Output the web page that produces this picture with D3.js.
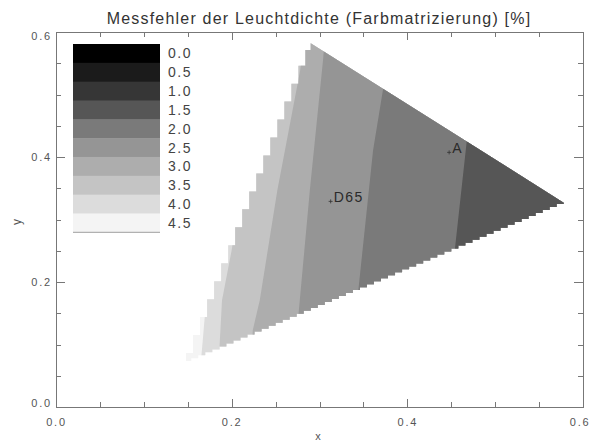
<!DOCTYPE html>
<html lang="de">
<head>
<meta charset="utf-8">
<title>Messfehler der Leuchtdichte</title>
<script src="https://cdn.jsdelivr.net/npm/d3@7"></script>
<style>
	body { margin: 0; background: #fff; }
	svg { display: block; font-family: "Liberation Sans", Arial, sans-serif; }
	.axis path, .axis line { stroke: #777; shape-rendering: crispEdges; }
	.axis text { fill: #555; font-size: 11px; letter-spacing: 1.8px; font-family: "Liberation Sans", Arial, sans-serif; }
</style>
</head>
<body>
<div id="chart"></div>

<script>
// contour levels shown in the legend
var levels = ["0.0", "0.5", "1.0", "1.5", "2.0", "2.5", "3.0", "3.5", "4.0", "4.5"];

// corners of the measured gamut (blue, green, red) in xy
var gamut = [[0.148, 0.072], [0.290, 0.582], [0.578, 0.327]];

// contour lines (bottom to top); to the right of each the error is below its level
var c45 = [[0.163, 0.040], [0.172, 0.187], [0.205, 0.620]];
var c40 = [[0.184, 0.040], [0.189, 0.171], [0.200, 0.251], [0.215, 0.395], [0.240, 0.620]];
var c35 = [[0.222, 0.040], [0.224, 0.123], [0.232, 0.171], [0.252, 0.347], [0.278, 0.539], [0.285, 0.620]];
var c30 = [[0.270, 0.040], [0.276, 0.147], [0.289, 0.347], [0.304, 0.555], [0.308, 0.620]];
var c25 = [[0.335, 0.040], [0.344, 0.184], [0.361, 0.411], [0.373, 0.514], [0.380, 0.620]];
var c20 = [[0.451, 0.040], [0.454, 0.251], [0.468, 0.430], [0.475, 0.620]];

// illuminants marked in the plot
var whiteNames = ["D65", "A"];
var whiteX = [0.3127, 0.4476];
var whiteY = [0.3290, 0.4074];

var xMajor = [0, 0.2, 0.4, 0.6];
var yMajor = [0, 0.2, 0.4, 0.6];
var minor = [0.05, 0.1, 0.15, 0.25, 0.3, 0.35, 0.45, 0.5, 0.55];

var grays = ["#000000", "#1b1b1b", "#363636", "#565656", "#7a7a7a",
	"#959595", "#adadad", "#c4c4c4", "#dcdcdc", "#f4f4f4"];

var width = 591, height = 441;

var svg = d3.select("#chart").append("svg")
	.attr("width", width)
	.attr("height", height);

var x = d3.scaleLinear().domain([0, 0.6]).range([56, 583]),
	y = d3.scaleLinear().domain([0, 0.6]).range([407, 32]);

var fill = d3.scaleOrdinal().domain(levels).range(grays);

var line = d3.line().x(function(d) { return x(d[0]); }).y(function(d) { return y(d[1]); });

// stepped gamut edges, like the gridded contour output
var B = gamut[0], G = gamut[1], R = gamut[2];
function edgeY(a, b, xv) { return a[1] + (b[1] - a[1]) * (xv - a[0]) / (b[0] - a[0]); }

var outline = [];
d3.range(B[0], G[0], 0.008).forEach(function(x0) {
	var x1 = Math.min(x0 + 0.008, G[0]);
	var yc = edgeY(B, G, (x0 + x1) / 2);
	outline.push([x0, yc], [x1, yc]);
});
outline.push(G, R);
d3.range(R[0], B[0], -0.008).forEach(function(x1) {
	var x0 = Math.max(x1 - 0.008, B[0]);
	var yc = edgeY(B, R, (x0 + x1) / 2);
	outline.push([x1, yc], [x0, yc]);
});

svg.append("clipPath").attr("id", "gamut")
	.append("path")
	.attr("d", line(outline) + "Z");

var plot = svg.append("g").attr("clip-path", "url(#gamut)");

plot.append("rect")
	.attr("x", x(0)).attr("y", y(0.6))
	.attr("width", x(0.6) - x(0)).attr("height", y(0) - y(0.6))
	.attr("fill", fill("4.5"));

var bands = [
	{line: c45, level: "4.0"},
	{line: c40, level: "3.5"},
	{line: c35, level: "3.0"},
	{line: c30, level: "2.5"},
	{line: c25, level: "2.0"},
	{line: c20, level: "1.5"}
];

plot.selectAll(".band")
	.data(bands)
	.enter().append("path")
	.attr("class", "band")
	.attr("d", function(d) {
		var pts = d.line.slice();
		pts.push([0.7, pts[pts.length - 1][1]], [0.7, pts[0][1]]);
		return line(pts) + "Z";
	})
	.attr("fill", function(d) { return fill(d.level); });

// illuminant markers
var marks = svg.append("g").selectAll("g")
	.data(whiteNames)
	.enter().append("g")
	.attr("transform", function(d, i) { return "translate(" + x(whiteX[i]) + "," + y(whiteY[i]) + ")"; });

marks.append("path")
	.attr("d", "M-2,0H2M0,-2V2")
	.attr("stroke", "#333")
	.attr("stroke-width", 0.8);

marks.append("text")
	.attr("x", 3)
	.attr("y", 1)
	.attr("font-size", "14px")
	.attr("letter-spacing", "1.5px")
	.attr("fill", "#2a2a2a")
	.text(function(d) { return d; });

// axes, ticks pointing inward on all four sides
function frame(axis, tr, values, size, labels) {
	var g = svg.append("g")
		.attr("class", "axis")
		.attr("transform", tr)
		.call(axis.tickValues(values).tickSizeInner(-size).tickSizeOuter(0).tickPadding(labels ? 9 : 0)
			.tickFormat(labels ? d3.format(".1f") : ""));
	return g;
}

var bottom = frame(d3.axisBottom(x), "translate(0,407)", xMajor, 8, true);
frame(d3.axisBottom(x), "translate(0,407)", minor, 5, false);
frame(d3.axisTop(x), "translate(0,32)", xMajor, 8, false);
frame(d3.axisTop(x), "translate(0,32)", minor, 5, false);
var left = frame(d3.axisLeft(y), "translate(56,0)", yMajor, 9, true);
frame(d3.axisLeft(y), "translate(56,0)", minor, 5, false);
frame(d3.axisRight(y), "translate(583,0)", yMajor, 9, false);
frame(d3.axisRight(y), "translate(583,0)", minor, 5, false);

bottom.selectAll("text").attr("y", 11)
	.attr("text-anchor", function(d) { return d === 0.6 ? "end" : "middle"; })
	.attr("x", function(d) { return d === 0.6 ? 7 : 0; });
left.selectAll("text").attr("x", -4)
	.attr("transform", function(d) { return d === 0.6 ? "translate(0,4)" : d === 0 ? "translate(0,-4)" : null; });

// legend
var rows = d3.scaleBand().domain(levels).range([44, 232.3]);

var legend = svg.append("g");

legend.selectAll("rect")
	.data(levels)
	.enter().append("rect")
	.attr("x", 73)
	.attr("width", 87)
	.attr("y", function(d) { return rows(d); })
	.attr("height", rows.bandwidth() + 0.5)
	.attr("fill", function(d) { return fill(d); });

legend.append("line")
	.attr("x1", 73).attr("x2", 160)
	.attr("y1", 232.3).attr("y2", 232.3)
	.attr("stroke", "#a0a0a0");

legend.selectAll("text")
	.data(levels)
	.enter().append("text")
	.attr("x", 168)
	.attr("y", function(d) { return rows(d) + rows.bandwidth() / 2 + 5; })
	.attr("font-size", "14px")
	.attr("letter-spacing", "1.5px")
	.attr("fill", "#444")
	.text(function(d) { return d; });

// titles
svg.append("text")
	.attr("x", 319)
	.attr("y", 24)
	.attr("text-anchor", "middle")
	.attr("font-size", "16px")
	.attr("letter-spacing", "1.2px")
	.attr("fill", "#333")
	.text("Messfehler der Leuchtdichte (Farbmatrizierung) [%]");

svg.append("text")
	.attr("x", 318)
	.attr("y", 440)
	.attr("text-anchor", "middle")
	.attr("font-size", "11px")
	.attr("fill", "#555")
	.text("x");

svg.append("text")
	.attr("transform", "translate(21,222) rotate(-90)")
	.attr("text-anchor", "middle")
	.attr("font-size", "12px")
	.attr("fill", "#555")
	.text("y");
</script>
</body>
</html>
